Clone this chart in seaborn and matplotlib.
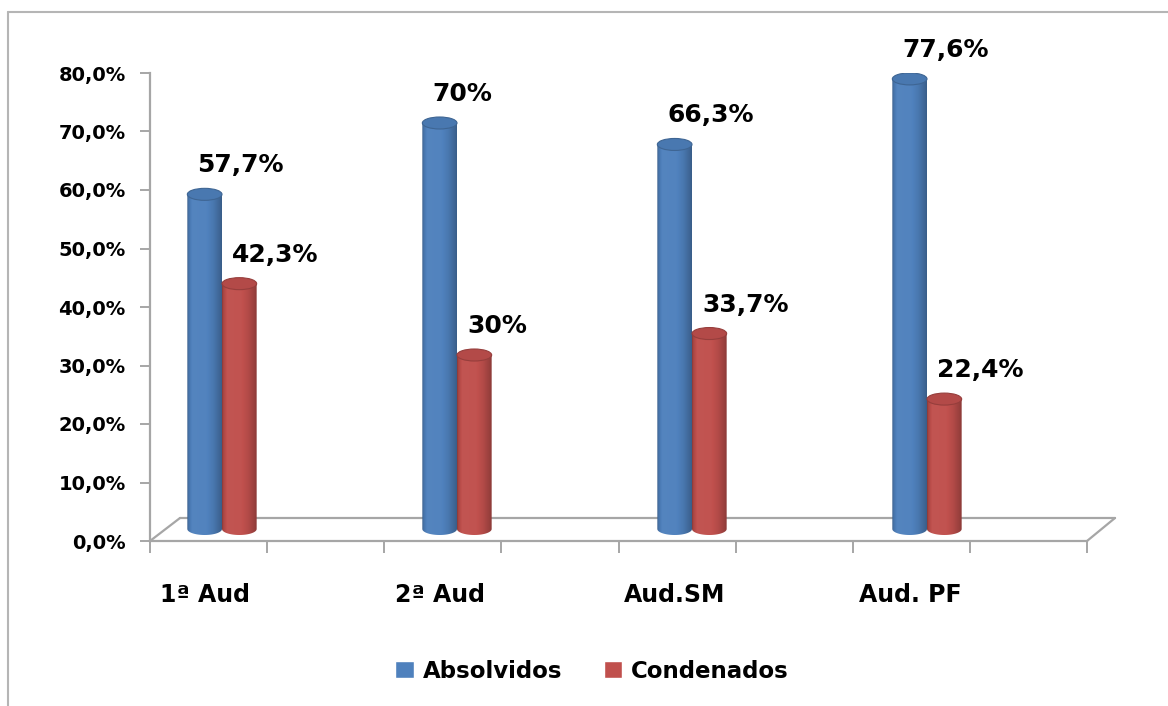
import numpy as np
import pandas as pd
import matplotlib
matplotlib.use("Agg")
import matplotlib.pyplot as plt
import seaborn as sns
from matplotlib.patches import Ellipse, PathPatch
from matplotlib.path import Path
from matplotlib.lines import Line2D
from matplotlib.font_manager import FontProperties
import matplotlib.colors as mcolors

# ---------------- data ----------------
categories = ["1ª Aud", "2ª Aud", "Aud.SM", "Aud. PF"]
series = ["Absolvidos", "Condenados"]
absolvidos = [57.7, 70.0, 66.3, 77.6]
condenados = [42.3, 30.0, 33.7, 22.4]
labels_absolvidos = ["57,7%", "70%", "66,3%", "77,6%"]
labels_condenados = ["42,3%", "30%", "33,7%", "22,4%"]
y_ticks = [0, 10, 20, 30, 40, 50, 60, 70, 80]
y_tick_labels = ["0,0%", "10,0%", "20,0%", "30,0%", "40,0%", "50,0%", "60,0%", "70,0%", "80,0%"]
colors = ["#4F81BD", "#C0504D"]

# ---------------- layout helpers ----------------
W, H = 1168, 706
def fx(px):
    return px / W
def fy(py):
    return 1 - py / H

GRAY = "#A6A6A6"
L, R, T, B = 150, 1087, 73, 541
BASE = 529          # pixel row of bar bases (mid-depth of 3D floor)
PXU = 5.8           # pixels per percentage unit for bars

sns.set_theme(style="white")
plt.rcParams["font.family"] = ["DejaVu Sans"]
plt.rcParams["font.weight"] = "bold"
plt.rcParams["text.color"] = "black"
plt.rcParams["xtick.color"] = "black"
plt.rcParams["ytick.color"] = "black"
plt.rcParams["axes.labelcolor"] = "black"

def fp(size):
    return FontProperties(family="DejaVu Sans", weight="bold", size=size)

fig = plt.figure(figsize=(W / 100, H / 100), dpi=100)
rect = [fx(L), fy(B), fx(R) - fx(L), fy(T) - fy(B)]

# ---- value axis (front-left edge) ----
ax_t = fig.add_axes(rect)
ax_t.patch.set_alpha(0)
ax_t.set_ylim(0, 80)
ax_t.set_xlim(0, 1)
ax_t.set_yticks(y_ticks, y_tick_labels)
ax_t.set_xticks(np.linspace(0, 1, 9), [""] * 9)
for s in ["top", "right"]:
    ax_t.spines[s].set_visible(False)
for s in ["left", "bottom"]:
    ax_t.spines[s].set_color(GRAY)
    ax_t.spines[s].set_linewidth(1.6)
ax_t.tick_params(axis="y", direction="out", left=True, length=7.5, width=1.4,
                 color=GRAY, labelcolor="black", pad=10)
ax_t.tick_params(axis="x", direction="out", bottom=True, length=8.5, width=1.4,
                 color=GRAY)
for lab in ax_t.get_yticklabels():
    lab.set_fontproperties(fp(14))

# ---- 3D floor outline ----
floor = [((150, 541), (180, 518)), ((180, 518), (1115, 518)),
         ((1087, 541), (1115, 518))]
for (x1, y1), (x2, y2) in floor:
    fig.add_artist(Line2D([fx(x1), fx(x2)], [fy(y1), fy(y2)],
                          transform=fig.transFigure, color=GRAY, lw=1.6, zorder=-1))

# chart frame
fig.add_artist(Line2D([fx(8), fx(8)], [fy(12), fy(706)], transform=fig.transFigure,
                      color="#B5B5B5", lw=1.5, zorder=-1))
fig.add_artist(Line2D([fx(8), fx(1168)], [fy(12), fy(12)], transform=fig.transFigure,
                      color="#B5B5B5", lw=1.5, zorder=-1))

# ---- bars ----
ax = fig.add_axes(rect)
ax.patch.set_alpha(0)
df = pd.DataFrame({
    "categoria": categories * 2,
    "serie": [series[0]] * 4 + [series[1]] * 4,
    "valor": absolvidos + condenados,
})
sns.barplot(data=df, x="categoria", y="valor", hue="serie", palette=colors,
            width=0.295, gap=0, saturation=1, ax=ax, errorbar=None)

y_lo = -(B - BASE) / PXU
y_hi = (BASE - T) / PXU
x_lo = (L - 222) / 235
x_hi = (R - 222) / 235

e_h = 12 / PXU  # ellipse height in data units
t = np.linspace(0, 1, 200)
shade = np.interp(t, [0.0, 0.04, 0.15, 0.55, 0.75, 0.92, 1.0],
                     [0.70, 0.88, 1.03, 1.02, 0.93, 0.80, 0.72])

def shaded_rgb(base, f):
    rgb = np.array(mcolors.to_rgb(base))
    out = []
    for v in f:
        if v <= 1:
            out.append(rgb * v)
        else:
            out.append(rgb + (1 - rgb) * (v - 1) * 0.9)
    return np.clip(np.array(out), 0, 1)

all_labels = [labels_absolvidos, labels_condenados]
for ci, cont in enumerate(ax.containers):
    base = colors[ci]
    grad = shaded_rgb(base, shade)[None, :, :]
    rgb = np.array(mcolors.to_rgb(base))
    for patch, txt in zip(cont.patches, all_labels[ci]):
        x0, w, h = patch.get_x(), patch.get_width(), patch.get_height()
        xc = x0 + w / 2
        patch.set_facecolor("none")
        patch.set_edgecolor("none")
        th = np.linspace(0, np.pi, 40)
        arc = np.column_stack([xc - (w / 2) * np.cos(th), -(e_h / 2) * np.sin(th)])
        verts = [(x0, h)] + arc.tolist() + [(x0 + w, h), (x0, h)]
        codes = [Path.MOVETO] + [Path.LINETO] * (len(verts) - 2) + [Path.CLOSEPOLY]
        body = PathPatch(Path(verts, codes), facecolor="none", edgecolor="none",
                         transform=ax.transData)
        ax.add_patch(body)
        im = ax.imshow(grad, extent=[x0, x0 + w, -e_h / 2 - 0.1, h], aspect="auto",
                       interpolation="bilinear", zorder=2)
        im.set_clip_path(body)
        cap = Ellipse((xc, h), w, e_h, facecolor=rgb * 0.93,
                      edgecolor=rgb * 0.78, lw=0.8, zorder=3)
        ax.add_patch(cap)
        ax.annotate(txt, xy=(x0, h), xytext=(10, 29), textcoords="offset pixels",
                    ha="left", va="center", fontproperties=fp(18),
                    color="black", zorder=5, annotation_clip=False)

ax.set_xlim(x_lo, x_hi)
ax.set_ylim(y_lo, y_hi)
ax.set_xticks([i - 0.073 for i in range(len(categories))], categories)
ax.set_yticks([])
ax.set_xlabel("")
ax.set_ylabel("")
ax.tick_params(axis="x", length=0, pad=30, labelcolor="black")
for lab in ax.get_xticklabels():
    lab.set_fontproperties(fp(17))
for s in ax.spines.values():
    s.set_visible(False)

sns.move_legend(ax, "center", bbox_to_anchor=(fx(592), fy(671)),
                bbox_transform=fig.transFigure, ncol=2, frameon=False, title=None,
                prop=fp(16.5), handlelength=0.8, handleheight=0.8,
                handletextpad=0.4, columnspacing=1.8)
for txt in ax.get_legend().get_texts():
    txt.set_color("black")

fig.savefig("out.png", dpi=100)
